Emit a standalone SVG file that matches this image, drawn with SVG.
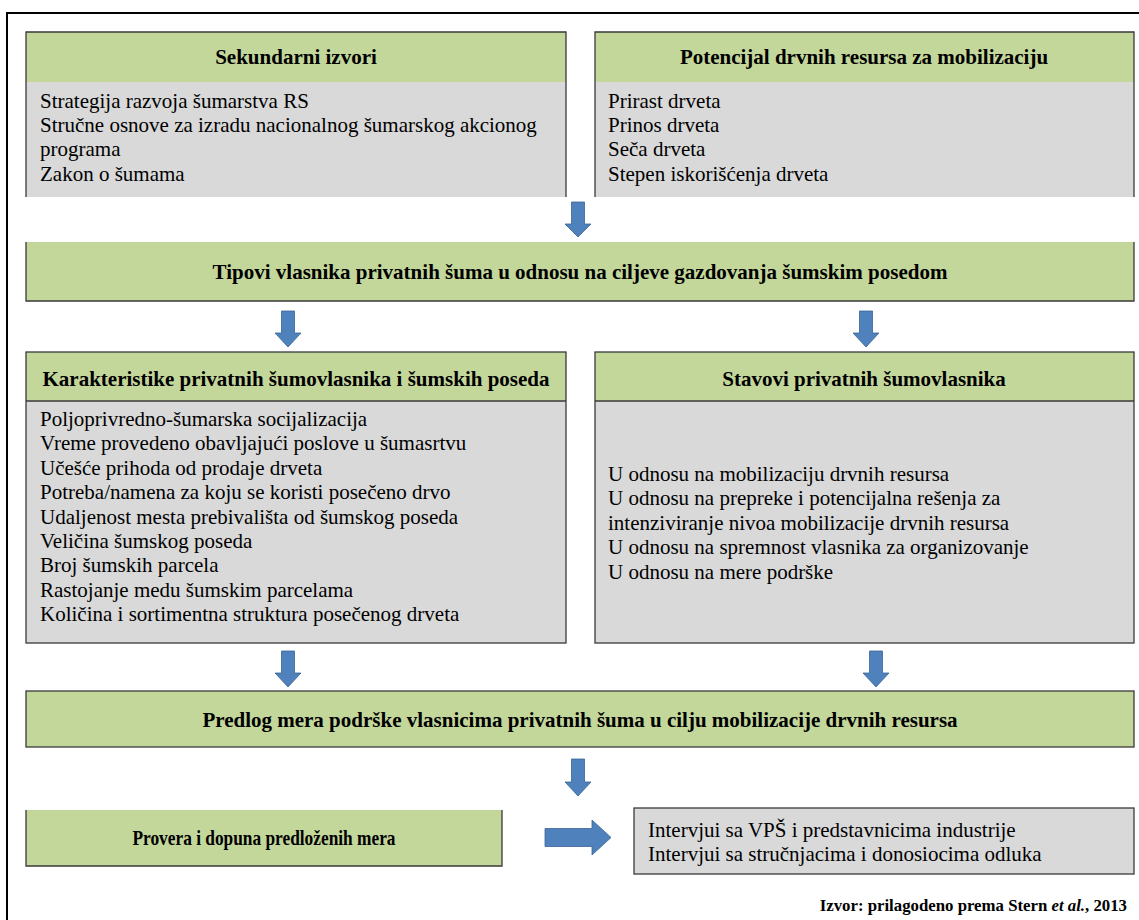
<svg xmlns="http://www.w3.org/2000/svg" width="1139" height="920" viewBox="0 0 1139 920">
<style>
.g{fill:#C4D79B}
.y{fill:#D9D9D9}
.bd{fill:none;stroke:#3a3a3a;stroke-width:1.3}
.h{font-family:"Liberation Serif","DejaVu Serif",serif;font-size:21px;font-weight:700;fill:#000;text-anchor:middle}
.t{font-family:"Liberation Serif","DejaVu Serif",serif;font-size:21px;font-weight:400;fill:#000}
.ar{fill:#4F81BD;stroke:#3A6495;stroke-width:0.8}
.fr{fill:none;stroke:#000;stroke-width:2}
</style>
<rect width="1139" height="920" fill="#fff"/>
<g id="frame">
<path class="fr" d="M7 13 H1139 M7 12 V920"/>
</g>
<g id="sekundarni">
<rect class="g" x="26" y="32" width="540" height="50"/>
<rect class="y" x="26" y="82" width="540" height="115"/>
<path class="bd" d="M26 197 V32 H566 V197"/>
<text class="h" x="296" y="64">Sekundarni izvori</text>
<text class="t" x="40" y="108">Strategija razvoja šumarstva RS</text>
<text class="t" x="40" y="132">Stručne osnove za izradu nacionalnog šumarskog akcionog</text>
<text class="t" x="40" y="156">programa</text>
<text class="t" x="40" y="181">Zakon o šumama</text>
</g>
<g id="potencijal">
<rect class="g" x="595" y="32" width="539" height="50"/>
<rect class="y" x="595" y="82" width="539" height="115"/>
<path class="bd" d="M595 197 V32 H1134 V197"/>
<text class="h" x="864" y="64">Potencijal drvnih resursa za mobilizaciju</text>
<text class="t" x="608" y="108">Prirast drveta</text>
<text class="t" x="608" y="132">Prinos drveta</text>
<text class="t" x="608" y="156">Seča drveta</text>
<text class="t" x="608" y="181">Stepen iskorišćenja drveta</text>
</g>
<g id="tipovi">
<rect class="g" x="26" y="242" width="1108" height="59"/>
<path class="bd" d="M26 242 V301 H1134 V242"/>
<text class="h" x="580" y="279">Tipovi vlasnika privatnih šuma u odnosu na ciljeve gazdovanja šumskim posedom</text>
</g>
<g id="karakteristike">
<rect class="g" x="26" y="352" width="540" height="49"/>
<rect class="y" x="26" y="401" width="540" height="242"/>
<rect class="bd" x="26" y="352" width="540" height="291"/>
<line class="bd" x1="26" y1="401" x2="566" y2="401"/>
<text class="h" x="296" y="386">Karakteristike privatnih šumovlasnika i šumskih poseda</text>
<text class="t" x="40" y="426">Poljoprivredno-šumarska socijalizacija</text>
<text class="t" x="40" y="450">Vreme provedeno obavljajući poslove u šumasrtvu</text>
<text class="t" x="40" y="475">Učešće prihoda od prodaje drveta</text>
<text class="t" x="40" y="499">Potreba/namena za koju se koristi posečeno drvo</text>
<text class="t" x="40" y="524">Udaljenost mesta prebivališta od šumskog poseda</text>
<text class="t" x="40" y="548">Veličina šumskog poseda</text>
<text class="t" x="40" y="572">Broj šumskih parcela</text>
<text class="t" x="40" y="597">Rastojanje medu šumskim parcelama</text>
<text class="t" x="40" y="621">Količina i sortimentna struktura posečenog drveta</text>
</g>
<g id="stavovi">
<rect class="g" x="595" y="352" width="539" height="49"/>
<rect class="y" x="595" y="401" width="539" height="242"/>
<rect class="bd" x="595" y="352" width="539" height="291"/>
<line class="bd" x1="595" y1="401" x2="1134" y2="401"/>
<text class="h" x="864" y="386">Stavovi privatnih šumovlasnika</text>
<text class="t" x="608" y="481">U odnosu na mobilizaciju drvnih resursa</text>
<text class="t" x="608" y="505">U odnosu na prepreke i potencijalna rešenja za</text>
<text class="t" x="608" y="530">intenziviranje nivoa mobilizacije drvnih resursa</text>
<text class="t" x="608" y="554">U odnosu na spremnost vlasnika za organizovanje</text>
<text class="t" x="608" y="579">U odnosu na mere podrške</text>
</g>
<g id="predlog">
<rect class="g" x="26" y="691" width="1108" height="56"/>
<rect class="bd" x="26" y="691" width="1108" height="56"/>
<text class="h" x="580" y="727">Predlog mera podrške vlasnicima privatnih šuma u cilju mobilizacije drvnih resursa</text>
</g>
<g id="provera">
<rect class="g" x="26" y="810" width="476" height="56"/>
<path class="bd" d="M26 810 V866 H502 V810"/>
<text class="h" x="264" y="845" textLength="263" lengthAdjust="spacingAndGlyphs">Provera i dopuna predloženih mera</text>
</g>
<g id="intervjui">
<rect class="y" x="634" y="808" width="500" height="66"/>
<rect class="bd" x="634" y="808" width="500" height="66"/>
<text class="t" x="648" y="837">Intervjui sa VPŠ i predstavnicima industrije</text>
<text class="t" x="648" y="861">Intervjui sa stručnjacima i donosiocima odluka</text>
</g>
<g id="connectors">
<polygon class="ar" points="571.5,202 584.5,202 584.5,224 591,224 578,237 565,224 571.5,224"/>
<polygon class="ar" points="281.5,311 294.5,311 294.5,333 301,333 288,347 275,333 281.5,333"/>
<polygon class="ar" points="859.5,311 872.5,311 872.5,333 879,333 866,347 853,333 859.5,333"/>
<polygon class="ar" points="281.5,651 294.5,651 294.5,673 301,673 288,687 275,673 281.5,673"/>
<polygon class="ar" points="869.5,651 882.5,651 882.5,673 889,673 876,687 863,673 869.5,673"/>
<polygon class="ar" points="571.5,759 584.5,759 584.5,782 591,782 578,796 565,782 571.5,782"/>
<polygon class="ar" points="545,828.5 592,828.5 592,820 611,837.5 592,855 592,846.5 545,846.5"/>
</g>
<g id="source">
<text x="1127" y="911" text-anchor="end" style="font-family:'Liberation Serif','DejaVu Serif',serif;font-size:16.8px;font-weight:bold">Izvor: prilagodeno prema Stern <tspan font-style="italic">et al.</tspan>, 2013</text>
</g>
</svg>
